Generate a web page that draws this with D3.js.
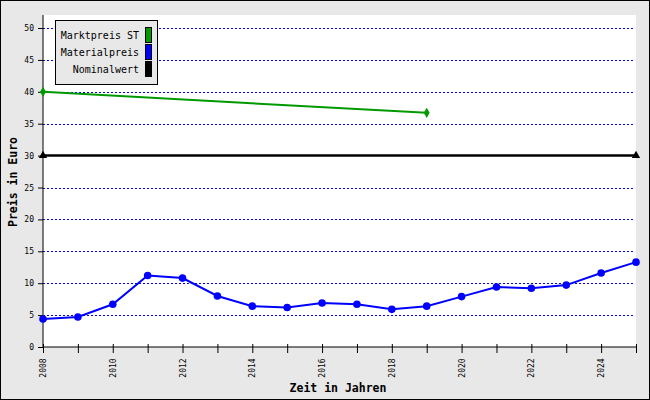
<!DOCTYPE html>
<html><head><meta charset="utf-8">
<script src="https://cdn.jsdelivr.net/npm/d3@7"></script>
<style>body{margin:0;padding:0;} svg{display:block;}</style>
</head><body>
<svg id="c" width="650" height="400"></svg>
<script>
const years = [2008,2009,2010,2011,2012,2013,2014,2015,2016,2017,2018,2019,2020,2021,2022,2023,2024,2025];
const materialpreis = [4.4,4.7,6.7,11.2,10.8,8.0,6.4,6.2,6.9,6.7,5.9,6.4,7.9,9.4,9.2,9.7,11.6,13.3];
const marktYears = [2008,2019];
const marktpreis = [40.0,36.7];
const nominalYears = [2008,2025];
const nominalwert = [30,30];
const yTicks = [0,5,10,15,20,25,30,35,40,45,50];
const xLabelYears = [2008,2010,2012,2014,2016,2018,2020,2022,2024];
const legendNames = ["Marktpreis ST","Materialpreis","Nominalwert"];
const legendColors = ["#009900","#0000ff","#000000"];

const svg = d3.select("#c");
const W=650,H=400;
const L=43,R=636,T=15,B=347;
svg.append("rect").attr("x",0.5).attr("y",0.5).attr("width",W-1).attr("height",H-1).attr("fill","#e8e8e8").attr("stroke","#000");
svg.append("rect").attr("x",L).attr("y",T).attr("width",R-L).attr("height",B-T).attr("fill","#fff");

const x = d3.scaleLinear().domain([2008,2025]).range([L,R]);
const y = d3.scaleLinear().domain([0,50]).range([B,28]);
const mono = "'DejaVu Sans Mono', 'Liberation Mono', monospace";

// grid
svg.append("g").selectAll("line").data(yTicks.filter(v=>v>0 && v!==30)).join("line")
  .attr("x1",L).attr("x2",R-3).attr("y1",d=>Math.round(y(d))+0.5).attr("y2",d=>Math.round(y(d))+0.5)
  .attr("stroke","#0000ff").attr("stroke-width",1).attr("stroke-dasharray","2,2");

// y axis
const ya = svg.append("g").attr("transform",`translate(${L},0)`)
  .call(d3.axisLeft(y).tickValues(yTicks).tickSize(5).tickPadding(4).tickFormat(d3.format("d")));
ya.select(".domain").remove();
ya.append("line").attr("x1",0).attr("x2",0).attr("y1",T).attr("y2",B).attr("stroke","#000");
ya.selectAll("text").attr("font-family",mono).attr("font-size",8).attr("fill","#000");
ya.selectAll("line").attr("stroke","#000");

// x axis
const xa = svg.append("g").attr("transform",`translate(0,${B})`)
  .call(d3.axisBottom(x).tickValues(years).tickSize(6).tickFormat(""));
xa.select(".domain").remove();
xa.append("line").attr("x1",L).attr("x2",R).attr("y1",0).attr("y2",0).attr("stroke","#000");
xa.selectAll(".tick line").attr("y1",-3).attr("stroke","#000");
xa.selectAll(".xl").data(xLabelYears).join("text").attr("class","xl")
  .attr("transform",d=>`translate(${x(d)+3},${21}) rotate(-90)`)
  .attr("text-anchor","middle").attr("font-family",mono).attr("font-size",8).attr("fill","#000")
  .text(d=>d);

// axis titles
svg.append("text").attr("x",338).attr("y",392).attr("text-anchor","middle")
  .attr("font-family",mono).attr("font-weight","bold").attr("font-size",11.5).text("Zeit in Jahren");
svg.append("text").attr("transform","translate(17,182) rotate(-90)").attr("text-anchor","middle")
  .attr("font-family",mono).attr("font-weight","bold").attr("font-size",11.5).text("Preis in Euro");

const line = d3.line().x(d=>x(d[0])).y(d=>y(d[1]));
// nominal
const nomData = nominalYears.map((v,i)=>[v,nominalwert[i]]);
svg.append("path").datum(nomData).attr("d",line).attr("fill","none").attr("stroke","#000").attr("stroke-width",2.5);
svg.selectAll(".tri").data(nomData).join("path").attr("class","tri")
  .attr("transform",d=>`translate(${x(d[0])},${y(d[1])})`)
  .attr("d",d3.symbol(d3.symbolTriangle,30)).attr("fill","#000");
// markt
const mData = marktYears.map((v,i)=>[v,marktpreis[i]]);
svg.append("path").datum(mData).attr("d",line).attr("fill","none").attr("stroke","#009900").attr("stroke-width",2);
svg.selectAll(".dia").data(mData).join("path").attr("class","dia")
  .attr("transform",d=>`translate(${x(d[0])},${y(d[1])})`)
  .attr("d",d3.symbol(d3.symbolDiamond,30)).attr("fill","#009900");
// material
const matData = years.map((v,i)=>[v,materialpreis[i]]);
svg.append("path").datum(matData).attr("d",line).attr("fill","none").attr("stroke","#0000ff").attr("stroke-width",2);
svg.selectAll(".dot").data(matData).join("circle").attr("class","dot")
  .attr("cx",d=>x(d[0])).attr("cy",d=>y(d[1])).attr("r",3.8).attr("fill","#0000ff");

// legend
const lg = svg.append("g");
lg.append("rect").attr("x",55.5).attr("y",20.5).attr("width",102).attr("height",64).attr("fill","#e8e8e8").attr("stroke","#000");
legendNames.forEach((n,i)=>{
  const cy = 27 + i*17;
  lg.append("rect").attr("x",145.5).attr("y",cy+0.5).attr("width",6).attr("height",15).attr("fill",legendColors[i]).attr("stroke","#000");
  lg.append("text").attr("x",139).attr("y",cy+11.5).attr("text-anchor","end")
    .attr("font-family",mono).attr("font-size",10).attr("fill","#000").text(n);
});
</script>
</body></html>
